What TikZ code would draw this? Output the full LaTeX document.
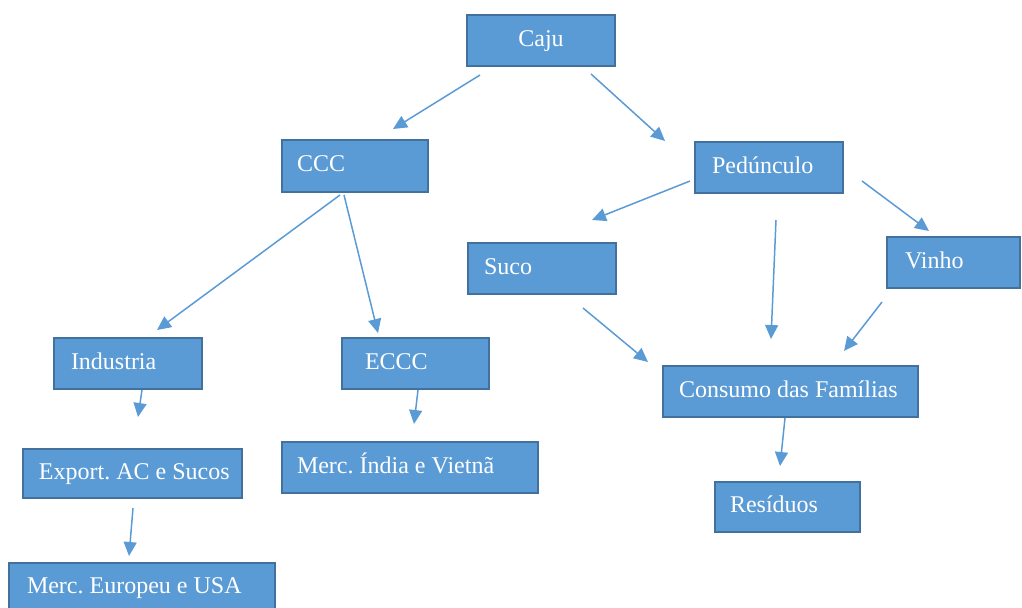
\documentclass[tikz,border=0pt]{standalone}
\usepackage{fontspec}
\setmainfont{Liberation Serif}
\usetikzlibrary{arrows.meta}
\definecolor{boxfill}{HTML}{5B9BD5}
\definecolor{boxline}{HTML}{41719C}
\definecolor{arrcol}{HTML}{5B9BD5}
\newcommand\myboxfont{\fontsize{12}{14}\selectfont\frenchspacing}
\newcommand\natspaces{\spaceskip 0pt\xspaceskip 0pt\relax}
\begin{document}
\begin{tikzpicture}[x=0.5pt,y=-0.5pt,
  box/.style={draw=boxline, fill=boxfill, line width=1pt, text=white,
    font=\myboxfont, align=left, text height=8pt, text depth=2.5pt,
    inner ysep=0pt, execute at begin node=\natspaces},
  arr/.style={draw=arrcol, line width=0.75pt, -{Triangle[length=7pt,width=6.5pt]}}]
\useasboundingbox (0,0) rectangle (1022,607);
% boxes
\node[box, align=center, text width=66pt, inner xsep=4pt, minimum height=25.5pt] (caju) at (541,40.5) {Caju};
\node[box, text width=58pt, inner xsep=7.5pt, minimum height=26pt] (ccc) at (355,166) {CCC};
\node[box, text width=57pt, inner xsep=8.5pt, minimum height=25.5pt] (ped) at (769,167.5) {Pedúnculo};
\node[box, text width=58pt, inner xsep=8pt, minimum height=25.5pt] (suco) at (542,268.5) {Suco};
\node[box, text width=48.5pt, inner xsep=9pt, minimum height=25.5pt] (vinho) at (953.5,262.5) {Vinho};
\node[box, text width=57pt, inner xsep=8.5pt, minimum height=25.5pt] (ind) at (128,363.5) {Industria};
\node[box, text width=50.5pt, inner xsep=11.5pt, minimum height=25.5pt] (eccc) at (415.5,363.5) {ECCC};
\node[box, text width=111.5pt, inner xsep=8pt, minimum height=25.5pt] (cons) at (790.5,391.5) {\mbox{Consumo das Famílias}};
\node[box, text width=93.5pt, inner xsep=8pt, minimum height=24.5pt] (exp) at (132.5,473.5) {\mbox{Export. AC e Sucos}};
\node[box, text width=113pt, inner xsep=7.5pt, minimum height=25.5pt] (mind) at (410,467.5) {\mbox{Merc. Índia e Vietnã}};
\node[box, text width=57.5pt, inner xsep=7.5pt, minimum height=25pt] (res) at (787.5,507) {Resíduos};
\node[box, text width=115pt, inner xsep=9pt, minimum height=25pt] (meu) at (142,588) {\mbox{Merc. Europeu e USA}};
% arrow end points
\coordinate (a1s) at (480,75);  \coordinate (a1e) at (393,129);
\coordinate (a2s) at (591,74);  \coordinate (a2e) at (665,141);
\coordinate (a3s) at (690,181); \coordinate (a3e) at (592,220);
\coordinate (a4s) at (776,220); \coordinate (a4e) at (771,339);
\coordinate (a5s) at (862,181); \coordinate (a5e) at (929,231);
\coordinate (a6s) at (583,308); \coordinate (a6e) at (648,362);
\coordinate (a7s) at (882,302); \coordinate (a7e) at (844,351);
\coordinate (a8s) at (340,195); \coordinate (a8e) at (157,330);
\coordinate (a9s) at (344,195); \coordinate (a9e) at (378,333);
\coordinate (a10s) at (142,390); \coordinate (a10e) at (138,417);
\coordinate (a11s) at (418,390); \coordinate (a11e) at (414,424);
\coordinate (a12s) at (133,508); \coordinate (a12e) at (129,556);
\coordinate (a13s) at (785,418); \coordinate (a13e) at (780,466);
% connectors
\draw[arr] (a1s) -- (a1e);
\draw[arr] (a2s) -- (a2e);
\draw[arr] (a3s) -- (a3e);
\draw[arr] (a4s) -- (a4e);
\draw[arr] (a5s) -- (a5e);
\draw[arr] (a6s) -- (a6e);
\draw[arr] (a7s) -- (a7e);
\draw[arr] (a8s) -- (a8e);
\draw[arr] (a9s) -- (a9e);
\draw[arr] (a10s) -- (a10e);
\draw[arr] (a11s) -- (a11e);
\draw[arr] (a12s) -- (a12e);
\draw[arr] (a13s) -- (a13e);
\end{tikzpicture}
\end{document}
